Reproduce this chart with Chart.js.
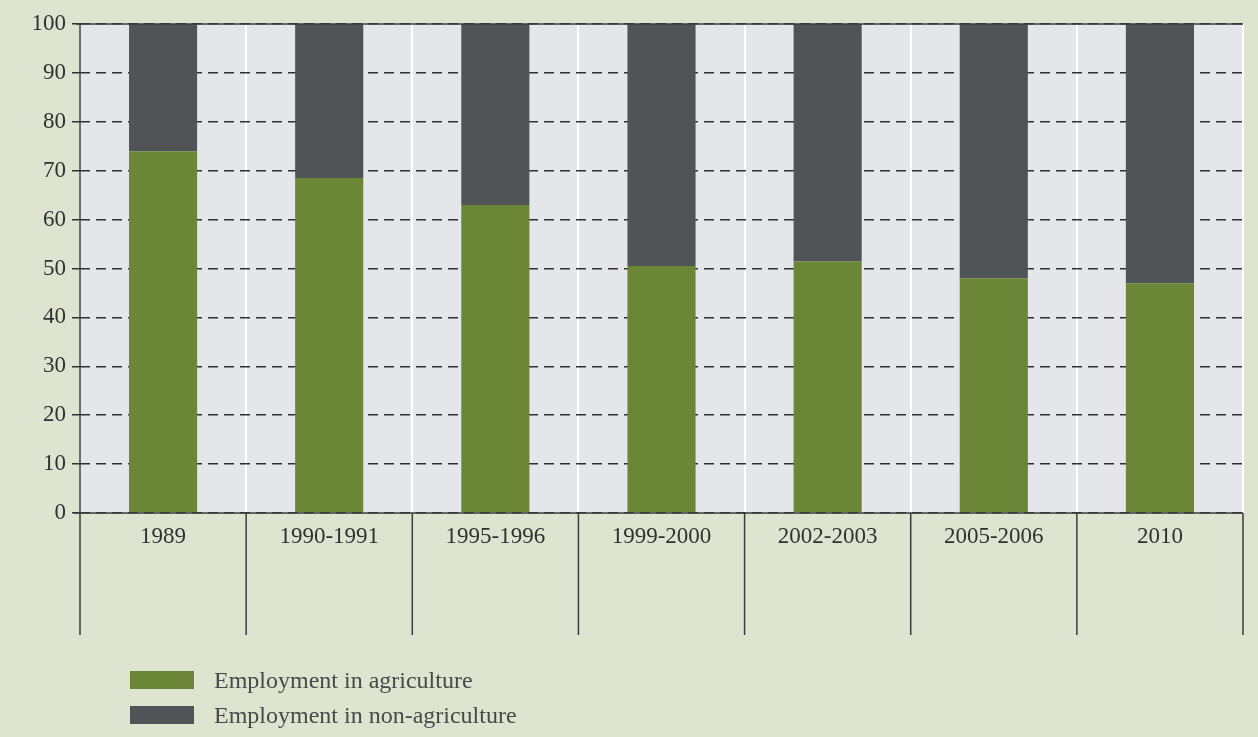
<!DOCTYPE html>
<html>
<head>
<meta charset="utf-8">
<script src="https://cdn.jsdelivr.net/npm/chart.js@4"></script>
<style>
  html, body { margin: 0; padding: 0; background: #dfe4d1; }
  #wrap { position: relative; width: 1258px; height: 737px; }
  #legend { position: absolute; left: 130px; top: 671px; font-family: "Liberation Serif", serif; font-size: 24px; color: #474a48; }
  .item { display: flex; align-items: center; height: 18px; margin-bottom: 17px; }
  .box { width: 64px; height: 18px; margin-right: 20px; flex: none; }
</style>
</head>
<body>
<div id="wrap">
  <canvas id="chart" width="1258" height="737"></canvas>
  <div id="legend"></div>
</div>
<script>
const categories = ['1989', '1990-1991', '1995-1996', '1999-2000', '2002-2003', '2005-2006', '2010'];
const agriculture = [74, 68.5, 63, 50.5, 51.5, 48, 47];
const nonAgriculture = [26, 31.5, 37, 49.5, 48.5, 52, 53];
const seriesNames = ['Employment in agriculture', 'Employment in non-agriculture'];
const seriesColors = ['#6b8636', '#505457'];

const frame = {
    id: 'frame',
    beforeDraw(chart) {
        const { ctx, chartArea: a } = chart;
        ctx.save();
        ctx.fillStyle = '#e5e6ea';
        ctx.fillRect(a.left, a.top, a.right - a.left, a.bottom - a.top);
        ctx.restore();
    },
    afterDraw(chart) {
        const { ctx, chartArea: a } = chart;
        const x = chart.scales.x;
        const y = chart.scales.y;
        const step = (a.right - a.left) / categories.length;
        ctx.save();
        ctx.strokeStyle = '#3a3d3f';
        ctx.lineWidth = 1.5;
        ctx.beginPath();
        // left axis
        ctx.moveTo(a.left, y.getPixelForValue(100));
        ctx.lineTo(a.left, a.bottom + 122);
        // top and zero lines
        ctx.moveTo(a.left - 4, y.getPixelForValue(100));
        ctx.lineTo(a.right, y.getPixelForValue(100));
        ctx.moveTo(a.left - 6, y.getPixelForValue(0));
        ctx.lineTo(a.right, y.getPixelForValue(0));
        // category separators below the axis
        for (let i = 1; i <= categories.length; i++) {
            const px = x.getPixelForValue(i - 1) + step / 2;
            ctx.moveTo(px, a.bottom);
            ctx.lineTo(px, a.bottom + 122);
        }
        ctx.stroke();
        ctx.restore();
    }
};

new Chart(document.getElementById('chart'), {
    type: 'bar',
    data: {
        labels: categories,
        datasets: [
            { label: seriesNames[0], data: agriculture, backgroundColor: seriesColors[0] },
            { label: seriesNames[1], data: nonAgriculture, backgroundColor: seriesColors[1] }
        ]
    },
    options: {
        responsive: false,
        animation: false,
        categoryPercentage: 1,
        barPercentage: 0.41,
        layout: { padding: { top: 24, right: 15, bottom: 97, left: 0 } },
        scales: {
            x: {
                stacked: true,
                afterFit(s) { s.height = 127; },
                grid: { offset: true, color: '#ffffff', lineWidth: 2, drawTicks: false },
                border: { display: false },
                ticks: { padding: 10, color: '#303232', font: { family: 'Liberation Serif', size: 23 } }
            },
            y: {
                stacked: true,
                min: 0,
                max: 100,
                afterFit(s) { s.width = 80; },
                ticks: { stepSize: 10, padding: 6, color: '#303232', font: { family: 'Liberation Serif', size: 23 } },
                grid: { color: '#2e3033', lineWidth: 1.5, tickLength: 8 },
                border: { display: false, dash: [10, 6] }
            }
        },
        plugins: { legend: { display: false }, tooltip: { enabled: false } }
    },
    plugins: [frame]
});

const legend = document.getElementById('legend');
seriesNames.forEach((name, i) => {
    const row = document.createElement('div');
    row.className = 'item';
    row.innerHTML = `<span class="box" style="background:${seriesColors[i]}"></span><span>${name}</span>`;
    legend.appendChild(row);
});
</script>
</body>
</html>
